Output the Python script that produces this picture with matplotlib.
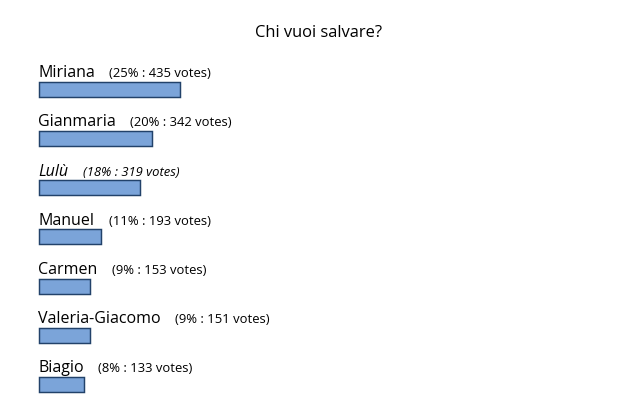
import matplotlib
matplotlib.use("Agg")
import matplotlib.pyplot as plt

title = "Chi vuoi salvare?"
names = ["Miriana", "Gianmaria", "Lulù", "Manuel", "Carmen", "Valeria-Giacomo", "Biagio"]
percents = [25, 20, 18, 11, 9, 9, 8]
votes = [435, 342, 319, 193, 153, 151, 133]
italic = [False, False, True, False, False, False, False]

W, H, DPI = 640, 407, 100
fig = plt.figure(figsize=(W / DPI, H / DPI), dpi=DPI)
ax = fig.add_axes([0, 0, 1, 1])

px_per_pct = 5.66
x0_px = 38.6
ax.set_xlim(-x0_px / px_per_pct, (W - x0_px) / px_per_pct)
row_px = 49.25
first_center = 89.0
ax.set_ylim((H - first_center) / row_px, -first_center / row_px)
ax.axis("off")

ys = list(range(len(names)))
ax.barh(ys, percents, height=15.0 / row_px, left=0, color="#7BA4D9",
        edgecolor="#22426A", linewidth=1.05)

plt.rcParams['font.family'] = ['Open Sans', 'DejaVu Sans']

fig.canvas.draw()
renderer = fig.canvas.get_renderer()
for i, (n, p, v, it) in enumerate(zip(names, percents, votes, italic)):
    yb = i - 12.0 / row_px
    style = "italic" if it else "normal"
    t = ax.text(-0.5 / px_per_pct, yb, n, fontsize=11.5, va="baseline", ha="left",
                family=["Open Sans", "DejaVu Sans"], style=style, color="#000000")
    bb = t.get_window_extent(renderer=renderer)
    xr = ax.transData.inverted().transform((bb.x1, 0))[0]
    ax.text(xr + 14.5 / px_per_pct, yb, f"({p}% : {v} votes)", fontsize=9.4,
            va="baseline", ha="left", family=["Open Sans", "DejaVu Sans"],
            style=style, color="#000000")

fig.text(319 / W, 1 - 37 / H, title, fontsize=11.9, ha="center", va="baseline",
         family=["Open Sans", "DejaVu Sans"], color="#000000")

fig.savefig("out.png", dpi=DPI, facecolor="white")
